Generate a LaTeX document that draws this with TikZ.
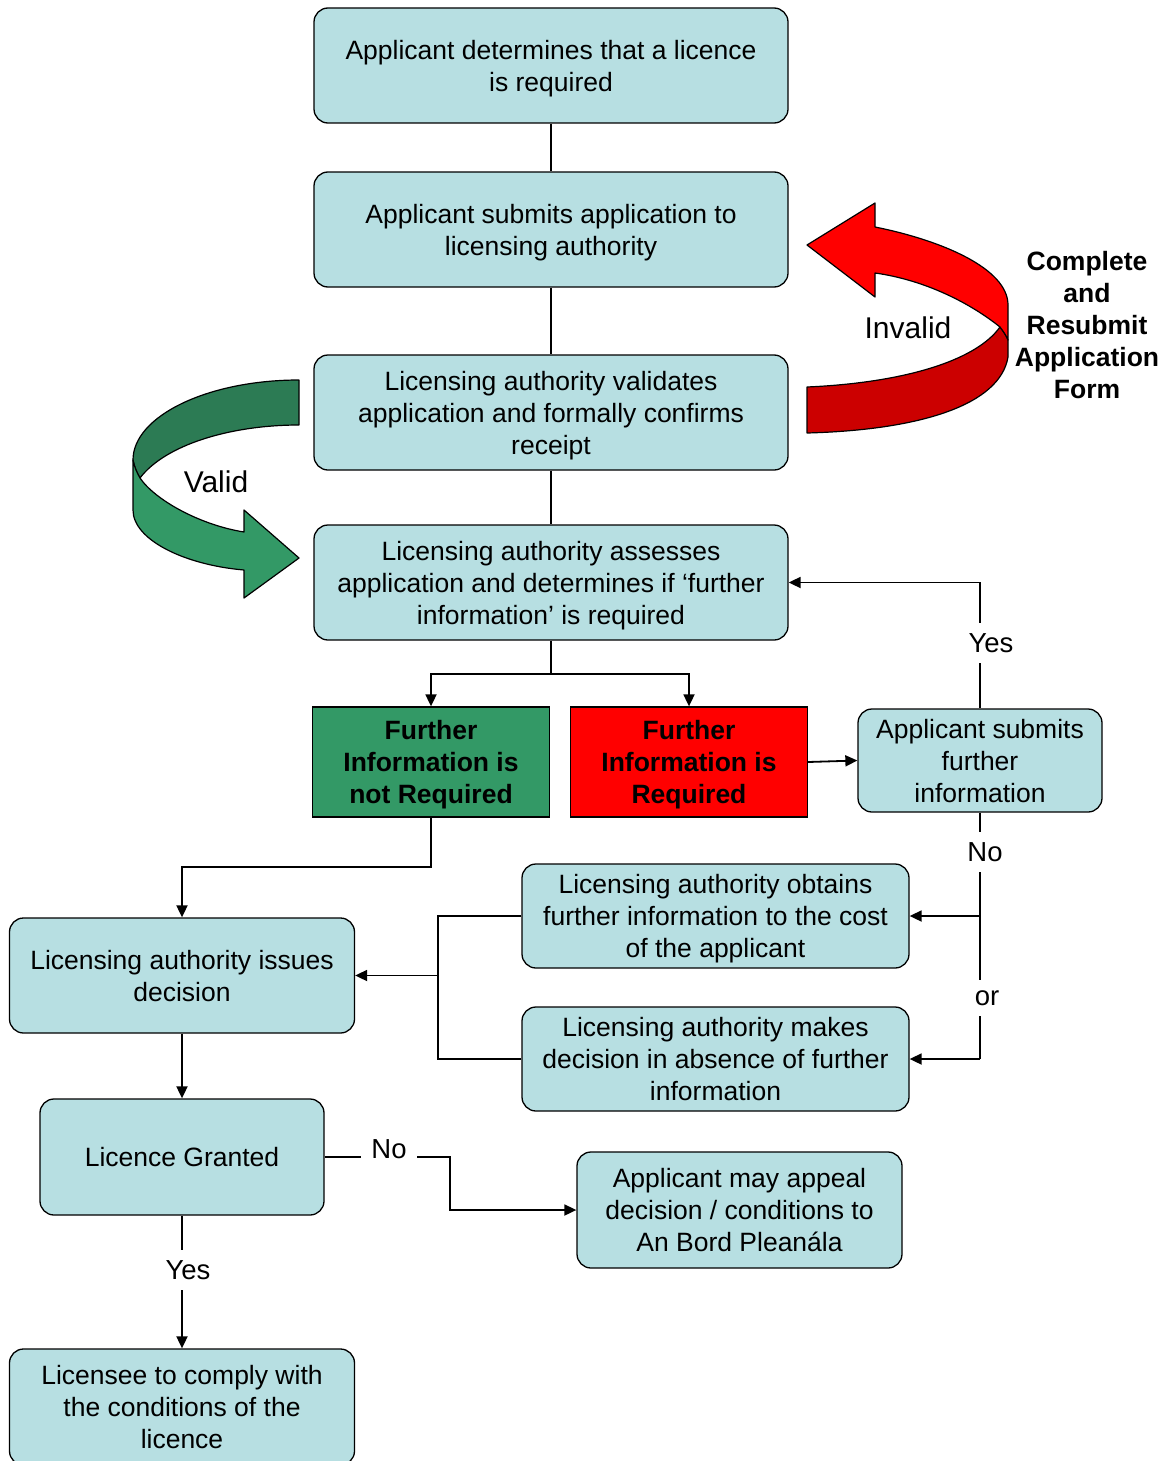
\documentclass[tikz,border=0pt]{standalone}
\usepackage{fontspec}
\setmainfont{Liberation Sans}
\usetikzlibrary{arrows.meta}
\definecolor{boxblue}{RGB}{183,223,226}
\definecolor{okgreen}{RGB}{51,153,102}
\definecolor{okgreendark}{RGB}{44,123,84}
\definecolor{badred}{RGB}{255,0,0}
\definecolor{badreddark}{RGB}{204,0,0}
\begin{document}
\begin{tikzpicture}[x=1pt,y=-1pt,
  every node/.style={inner sep=0pt, font=\fontsize{26.5}{32}\selectfont},
  stepbox/.style={draw=black, line width=1.3pt, fill=boxblue, rounded corners=14pt, align=center, text depth=0pt},
  flagbox/.style={draw=black, line width=1.3pt, align=center, text depth=0pt, font=\fontsize{26.5}{32}\selectfont\bfseries},
  link/.style={line width=1.8pt},
  arrow/.style={line width=1.8pt, -{Triangle[length=12pt,width=11pt]}},
  lbl/.style={fill=white, inner sep=10pt, font=\fontsize{27.5}{32}\selectfont},
  ribbon/.style={draw=black, line width=1.2pt, line join=round}]
\useasboundingbox (0,0) rectangle (1172,1461);
% main column
\node [stepbox, minimum width=474pt, minimum height=115pt] (determine) at (551,65.5) {Applicant determines that a licence\\is required};
\node [stepbox, minimum width=474pt, minimum height=115pt] (submit) at (551,229.5) {Applicant submits application to\\licensing authority};
\node [stepbox, minimum width=474pt, minimum height=115pt] (validate) at (551,412.5) {Licensing authority validates\\application and formally confirms\\receipt};
\node [stepbox, minimum width=474pt, minimum height=115pt] (assess) at (551,582.5) {Licensing authority assesses\\application and determines if ‘further\\information’ is required};
% further information
\node [flagbox, fill=okgreen, minimum width=237pt, minimum height=110pt] (notreq) at (431,762) {Further\\Information is\\not Required};
\node [flagbox, fill=badred, minimum width=237pt, minimum height=110pt] (req) at (689,762) {Further\\Information is\\Required};
\node [stepbox, minimum width=244pt, minimum height=103pt] (furthersub) at (980,760.5) {Applicant submits\\further\\information};
\node [stepbox, minimum width=387pt, minimum height=104pt] (obtain) at (715.5,916) {Licensing authority obtains\\further information to the cost\\of the applicant};
\node [stepbox, minimum width=387pt, minimum height=104pt] (decide) at (715.5,1059) {Licensing authority makes\\decision in absence of further\\information};
% decision
\node [stepbox, minimum width=345pt, minimum height=115pt] (issue) at (182,975.5) {Licensing authority issues\\decision};
\node [stepbox, minimum width=284pt, minimum height=116pt] (grant) at (182,1157) {Licence Granted};
\node [stepbox, minimum width=325pt, minimum height=116pt] (appeal) at (739.5,1210) {Applicant may appeal\\decision / conditions to\\An Bord Pleanála};
\node [stepbox, minimum width=345pt, minimum height=116pt] (comply) at (182,1407) {Licensee to comply with\\the conditions of the\\licence};
% junctions
\coordinate (split) at (551,674);
\coordinate (orjoin) at (980,1059);
\coordinate (merge) at (438,975.5);
\coordinate (drop) at (431,867);
\coordinate (turn) at (450,1157);
% connectors
\draw [link] (determine.south) -- (submit.north);
\draw [link] (submit.south) -- (validate.north);
\draw [link] (validate.south) -- (assess.north);
\draw [link] (assess.south) -- (split);
\draw [arrow] (split) -| (notreq.north);
\draw [arrow] (split) -| (req.north);
\draw [arrow] (req.east) -- (furthersub.west);
\draw [arrow] (furthersub.north) |- (assess.east);
\draw [link] (furthersub.south) -- (orjoin);
\draw [arrow] (furthersub.south |- obtain.east) -- (obtain.east);
\draw [arrow] (orjoin) -- (decide.east);
\draw [link] (obtain.west) -| (merge);
\draw [link] (decide.west) -| (merge);
\draw [arrow] (merge) -- (issue.east);
\draw [arrow] (notreq.south) -- (drop) -| (issue.north);
\draw [arrow] (issue.south) -- (grant.north);
\draw [arrow] (grant.east) -- (turn) |- (appeal.west);
\draw [arrow] (grant.south) -- (comply.north);
% labels on the lines
\node [lbl] (yesback) at (991,643) {Yes};
\node [lbl] (nofurther) at (985,852) {No};
\node [lbl] (orlbl) at (987,998) {or};
\node [lbl] (nogrant) at (389,1149) {No};
\node [lbl] (yesgrant) at (188,1270) {Yes};
% valid ribbon
\draw [ribbon, fill=okgreendark] (299,380) .. controls (208,380) and (133,416) .. (133,460)
  .. controls (134,466) and (137,473) .. (140,478)
  .. controls (165,445) and (230,425) .. (299,425) -- cycle;
\draw [ribbon, fill=okgreen] (133,460) -- (133,510) .. controls (133,540) and (185,565) .. (244,570)
  -- (244,598) -- (299,558) -- (244,510) -- (244,532)
  .. controls (200,525) and (155,500) .. (140,478)
  .. controls (137,473) and (134,466) .. (133,460) -- cycle;
\node [font=\fontsize{30}{34}\selectfont] (valid) at (216,482) {Valid};
% invalid ribbon
\draw [ribbon, fill=badreddark] (1000,327) .. controls (1003,331) and (1006,335) .. (1008,340) -- (1008,357)
  .. controls (1000,405) and (920,430) .. (807,433) -- (807,387)
  .. controls (900,383) and (975,362) .. (1000,327) -- cycle;
\draw [ribbon, fill=badred] (807,245) -- (875,203) -- (875,227)
  .. controls (940,240) and (1008,268) .. (1008,305) -- (1008,340)
  .. controls (1006,335) and (1003,331) .. (1000,327)
  .. controls (970,303) and (925,280) .. (875,273) -- (875,297) -- cycle;
\node [font=\fontsize{30}{34}\selectfont] (invalid) at (908,328) {Invalid};
\node [align=center, font=\fontsize{26.5}{32}\selectfont\bfseries] (resubmit) at (1087,325) {Complete\\and\\Resubmit\\Application\\Form};
\end{tikzpicture}
\end{document}
